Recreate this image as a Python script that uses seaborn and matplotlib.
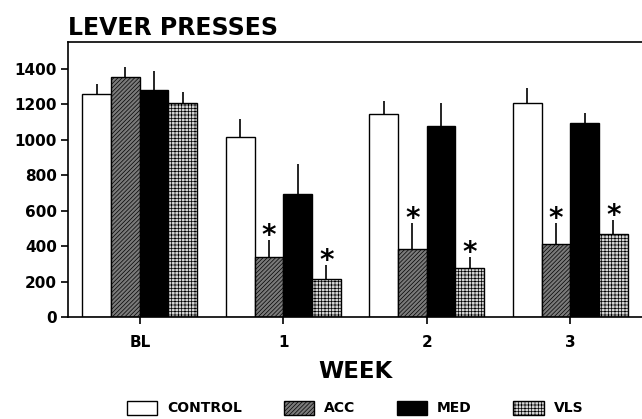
import pandas as pd
from matplotlib import pyplot as plt
import seaborn as sns
import numpy as np

# values (mean and top of the SEM bar)
weeks = ['BL', '1', '2', '3']
groups = ['CONTROL', 'ACC', 'MED', 'VLS']
control = [1255, 1015, 1145, 1205]
acc = [1355, 340, 385, 410]
med = [1280, 695, 1075, 1095]
vls = [1205, 215, 275, 470]
control_err = [60, 100, 70, 85]
acc_err = [55, 95, 145, 120]
med_err = [105, 170, 130, 55]
vls_err = [65, 80, 65, 75]
# significant groups marked with an asterisk
signif = {'ACC': ['1', '2', '3'], 'VLS': ['1', '2', '3']}

df = pd.DataFrame({
    'week': weeks * 4,
    'group': np.repeat(groups, 4),
    'presses': control + acc + med + vls,
    'err': control_err + acc_err + med_err + vls_err,
})

sns.set_style('ticks', {'axes.edgecolor': 'black', 'text.color': 'black',
                        'xtick.color': 'black', 'ytick.color': 'black',
                        'axes.labelcolor': 'black'})
plt.rcParams['font.family'] = ['DejaVu Sans']
plt.rcParams['hatch.linewidth'] = 0.5

fig = plt.figure(figsize=(6.42, 4.19), dpi=100)
ax = fig.add_axes([0.106, 0.243, 0.894, 0.657])

colors = {'CONTROL': 'white', 'ACC': '#7a7a7a', 'MED': 'black', 'VLS': '#d4d4d4'}
hatches = {'CONTROL': '', 'ACC': '////////', 'MED': '', 'VLS': '+++++'}

sns.barplot(data=df, x='week', y='presses', hue='group', order=weeks,
            hue_order=groups, palette=colors, errorbar=None, width=0.8,
            edgecolor='black', linewidth=1.0, ax=ax)

for cont, g in zip(ax.containers, groups):
    sub = df[df.group == g].set_index('week').loc[weeks]
    for bar, (wk, row) in zip(cont, sub.iterrows()):
        bar.set_hatch(hatches[g])
        xc = bar.get_x() + bar.get_width() / 2
        h = bar.get_height()
        ax.vlines(xc, h, h + row['err'], color='black', lw=1.2)
        if wk in signif.get(g, []):
            ax.text(xc, h + row['err'] - 55, '*', ha='center', va='bottom',
                    fontsize=20, fontweight='bold')

ax.set_xlim(-0.5, 3.5)
ax.set_ylim(0, 1550)
ax.set_yticks(range(0, 1401, 200))
ax.tick_params(axis='both', labelsize=11, width=1.2, length=5)
ax.tick_params(axis='x', pad=8)
ax.tick_params(axis='y', pad=3)
for lab in ax.get_xticklabels() + ax.get_yticklabels():
    lab.set_fontweight('bold')

ax.spines['right'].set_visible(False)
for s in ['left', 'top', 'bottom']:
    ax.spines[s].set_linewidth(1.2)

ax.set_ylabel('')
ax.set_xlabel('WEEK', fontsize=16.5, fontweight='bold', labelpad=7)
ax.set_title('LEVER PRESSES', loc='left', fontsize=17, fontweight='bold',
             pad=5, x=0.0)

leg = ax.legend(loc='center', bbox_to_anchor=(0.5, -0.33), ncol=4,
                frameon=False, fontsize=10, handlelength=2.2, handleheight=1.15,
                columnspacing=3.0, handletextpad=0.7, borderpad=0)
for t in leg.get_texts():
    t.set_fontweight('bold')
for hnd, g in zip(leg.legend_handles, groups):
    hnd.set_hatch(hatches[g])
    hnd.set_edgecolor('black')

fig.savefig('out.png', dpi=100)
